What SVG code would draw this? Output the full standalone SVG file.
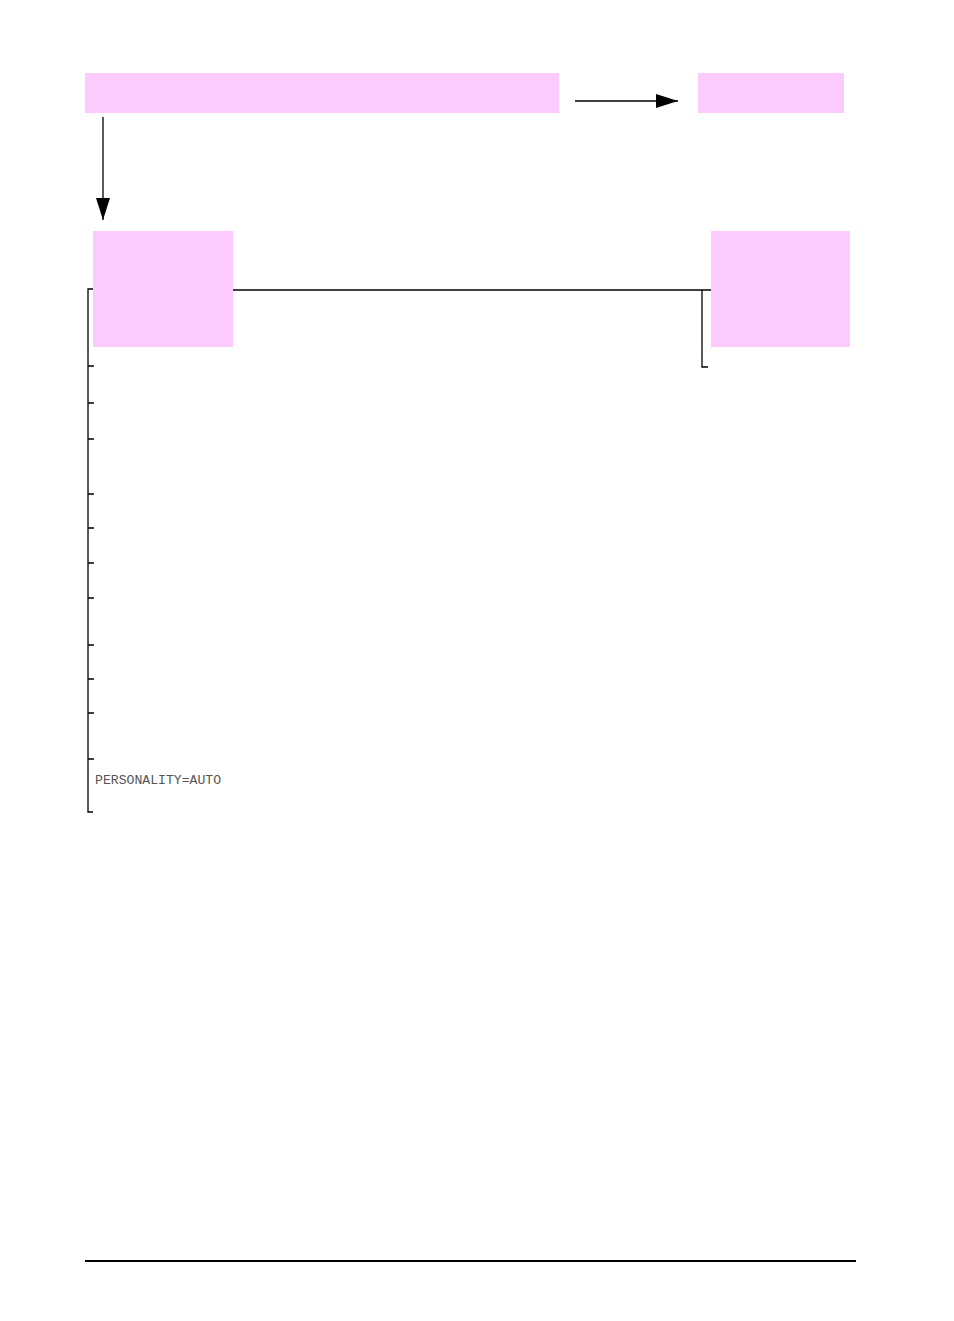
<svg xmlns="http://www.w3.org/2000/svg" width="954" height="1321" viewBox="0 0 954 1321">
<style>
.box{fill:#fccbfd;stroke:none}
.ln{stroke:#000;stroke-width:1.3;fill:none}
.lbl{font-family:"Liberation Mono","DejaVu Sans Mono",monospace;font-size:12px;fill:#555}
</style>
<defs>
<marker id="ah" markerWidth="22" markerHeight="14" refX="22" refY="7" orient="auto" markerUnits="userSpaceOnUse">
<path d="M0,0 L22,7 L0,14 Z" fill="#000"/>
</marker>
</defs>
<rect width="954" height="1321" fill="#fff"/>
<g id="node-top-left"><rect class="box" x="85" y="73" width="474" height="40"/></g>
<g id="node-top-right"><rect class="box" x="698" y="73" width="146" height="40"/></g>
<g id="node-mid-left"><rect class="box" x="93" y="231" width="140" height="116"/></g>
<g id="node-mid-right"><rect class="box" x="711" y="231" width="139" height="116"/></g>
<g id="connectors">
<line class="ln" x1="575" y1="101" x2="678" y2="101" marker-end="url(#ah)"/>
<line class="ln" x1="103" y1="117" x2="103" y2="220" marker-end="url(#ah)"/>
<line class="ln" x1="233" y1="290" x2="711" y2="290"/>
<path class="ln" d="M702,290 V367 H708"/>
<path class="ln" d="M93,289 H88 V812 H93"/>
<path class="ln" d="M88,366 H94 M88,403 H94 M88,439 H94 M88,494 H94 M88,528 H94 M88,563 H94 M88,598 H94 M88,645 H94 M88,679 H94 M88,713 H94 M88,759 H94"/>
</g>
<text class="lbl" x="95" y="784" textLength="126" lengthAdjust="spacingAndGlyphs">PERSONALITY=AUTO</text>
<line x1="85" y1="1261" x2="856" y2="1261" stroke="#000" stroke-width="2"/>
</svg>
